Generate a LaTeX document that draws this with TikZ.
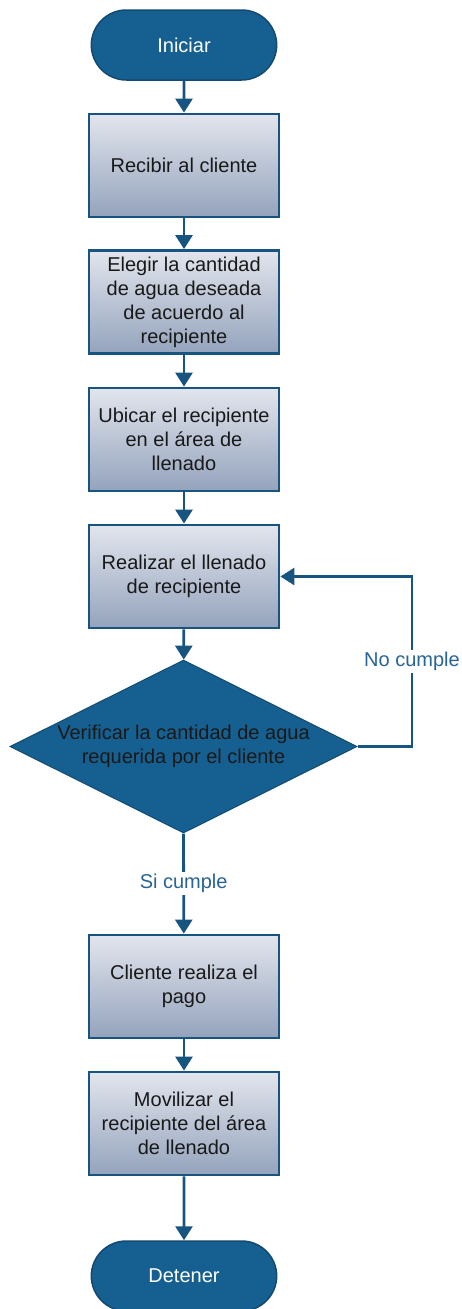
\documentclass[tikz,border=0pt]{standalone}
\usepackage{fontspec}
\setmainfont{Liberation Sans}
\usetikzlibrary{shapes.misc,shapes.geometric,arrows.meta}
\definecolor{fcblue}{RGB}{22,96,145}
\definecolor{fcedge}{RGB}{18,74,114}
\definecolor{fcline}{RGB}{24,84,128}
\definecolor{fctop}{RGB}{226,229,237}
\definecolor{fcbot}{RGB}{148,163,188}
\definecolor{fclbl}{RGB}{40,100,150}

\begin{document}
\begin{tikzpicture}[x=1pt,y=-1pt,
  every node/.style={font=\fontsize{20}{24}\selectfont},
  term/.style={rounded rectangle, fill=fcblue, draw=fcedge, line width=1.5pt,
    minimum width=192pt, minimum height=70pt, text=white},
  proc/.style={rectangle, draw=fcline, line width=2.8pt, top color=fctop, bottom color=fcbot,
    minimum width=190pt, minimum height=103pt, align=center, text=black!90},
  check/.style={diamond, aspect=2, fill=fcblue, draw=fcedge, line width=1pt,
    inner xsep=0pt, inner ysep=-2pt, minimum width=347pt, minimum height=173pt,
    align=center, text=black!90},
  flow/.style={draw=fcline, line width=2.8pt, -{Triangle[width=17pt,length=14pt]}},
  lbl/.style={fill=white, text=fclbl, inner sep=2pt}]
\useasboundingbox (0,0) rectangle (462,1309);
\node[term] (start) at (184,45) {Iniciar};
\node[proc] (recv) at (184,165.5) {Recibir al cliente};
\node[proc] (elegir) at (184,302) {Elegir la cantidad\\de agua deseada\\de acuerdo al\\recipiente};
\node[proc] (ubicar) at (184,439.5) {Ubicar el recipiente\\en el área de\\llenado};
\node[proc] (llenar) at (184,576.5) {Realizar el llenado\\de recipiente};
\node[check] (verif) at (183.5,746.5) {Verificar la cantidad de agua\\requerida por el cliente};
\node[proc] (pago) at (184,986.5) {Cliente realiza el\\pago};
\node[proc] (movil) at (184,1123.5) {Movilizar el\\recipiente del área\\de llenado};
\node[term] (stop) at (184,1276) {Detener};
\coordinate (loop) at (412,576.5);
\draw[flow] (start) -- (recv);
\draw[flow] (recv) -- (elegir);
\draw[flow] (elegir) -- (ubicar);
\draw[flow] (ubicar) -- (llenar);
\draw[flow] (llenar) -- (verif);
\draw[flow] (verif.east) -| node[lbl,pos=0.75]{No cumple} (loop) -- (llenar.east);
\draw[flow] (verif.south) -- node[lbl]{Si cumple} (pago);
\draw[flow] (pago) -- (movil);
\draw[flow] (movil) -- (stop);
\end{tikzpicture}
\end{document}
